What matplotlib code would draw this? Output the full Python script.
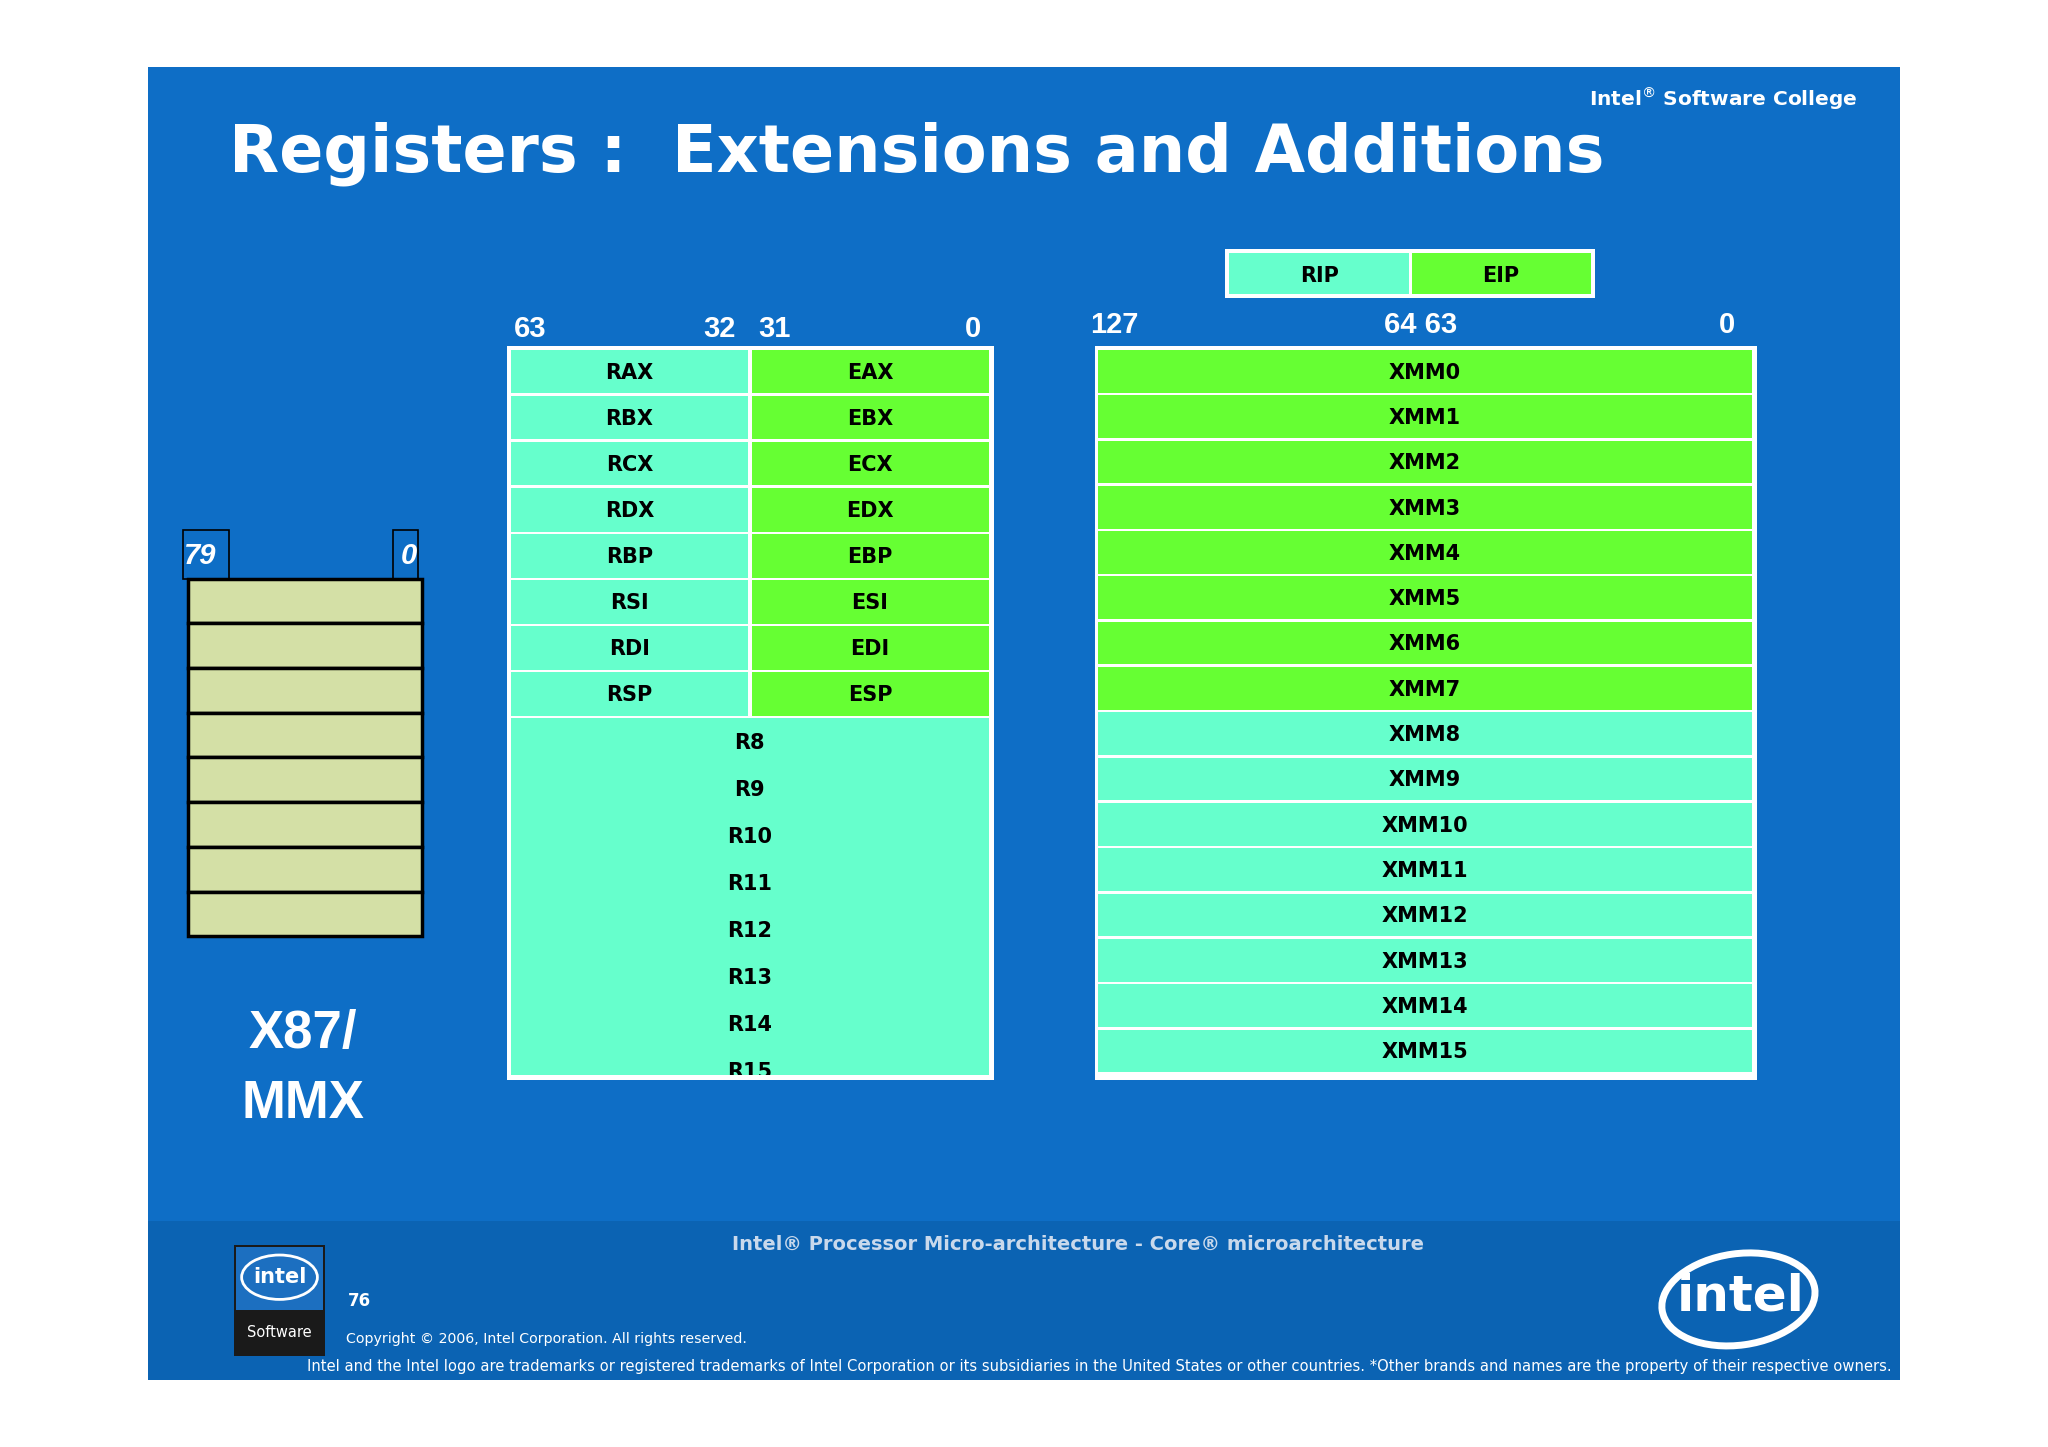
import matplotlib.pyplot as plt
from matplotlib.patches import Rectangle, Ellipse
from matplotlib.transforms import Bbox, TransformedBbox

TITLE = "Registers :  Extensions and Additions"
GPR_LEFT = ["RAX", "RBX", "RCX", "RDX", "RBP", "RSI", "RDI", "RSP"]
GPR_RIGHT = ["EAX", "EBX", "ECX", "EDX", "EBP", "ESI", "EDI", "ESP"]
GPR_EXT = ["R8", "R9", "R10", "R11", "R12", "R13", "R14", "R15"]
XMM = ["XMM%d" % i for i in range(16)]
GPR_BITS = [("63", 406), ("32", 551), ("31", 593), ("0", 745)]
XMM_BITS = [("127", 853), ("64 63", 1088), ("0", 1322)]
X87_ROWS = 8

BLUE = "#0E6EC6"
FOOT = "#0B63B3"
CYAN = "#66FFCC"
GREEN = "#66FF33"
X87C = "#D4E0A6"

fig = plt.figure(figsize=(20.48, 14.47), dpi=100)
ax = fig.add_axes([0, 0, 1, 1])
ax.set_xlim(0, 1568)
ax.set_ylim(1108, 0)
ax.axis("off")
fig.patch.set_facecolor("white")

def rect(x0, y0, x1, y1, fc, ec="none", lw=0, z=1):
    ax.add_patch(Rectangle((x0, y0), x1 - x0, y1 - y0, fc=fc, ec=ec, lw=lw, zorder=z))

def txt(x, y, s, size, color="black", ha="center", **kw):
    return ax.text(x, y, s, fontsize=size, color=color, ha=ha, va="center", zorder=5, **kw)

rect(113, 51, 1455, 1057, BLUE)
rect(113, 935, 1455, 1057, FOOT)

txt(175, 118, TITLE, 47, "white", ha="left", fontweight="bold")
txt(1422, 76, "Intel$^{®}$ Software College", 14.5, "white", ha="right", fontweight="bold")

# RIP / EIP
rect(938, 191, 1221, 228, "white")
rect(941, 194, 1079, 225, CYAN, z=2)
rect(1081, 194, 1218, 225, GREEN, z=2)
txt(1010, 211, "RIP", 15, fontweight="bold")
txt(1149, 211, "EIP", 15, fontweight="bold")

for s, x in GPR_BITS:
    txt(x, 252, s, 21, "white", family="Liberation Sans", fontweight="bold")
for s, x in XMM_BITS:
    txt(x, 249, s, 21, "white", family="Liberation Sans", fontweight="bold")

# GPR table
rect(388, 265, 761, 827, "white")
top, h = 268, (550 - 268) / 8
for i, (l, r) in enumerate(zip(GPR_LEFT, GPR_RIGHT)):
    y0 = top + i * h
    rect(391, y0, 573, y0 + h - 2, CYAN, z=2)
    rect(576, y0, 757, y0 + h - 2, GREEN, z=2)
    txt(482, y0 + h / 2, l, 15, fontweight="bold")
    txt(666, y0 + h / 2, r, 15, fontweight="bold")
rect(391, 550, 757, 823, CYAN, z=2)
clip = TransformedBbox(Bbox([[391, 550], [757, 823]]), ax.transData)
for i, s in enumerate(GPR_EXT):
    t = txt(574, 569 + i * 36, s, 15, fontweight="bold")
    t.set_clip_on(True)
    t.set_clip_box(clip)

# XMM table
rect(838, 265, 1345, 827, "white")
h = (823 - 268) / 16
for i, s in enumerate(XMM):
    y0 = 268 + i * h
    rect(841, y0, 1341, y0 + h - 2, GREEN if i < 8 else CYAN, z=2)
    txt(1091, y0 + h / 2, s, 15, fontweight="bold")

# x87 stack
for x0, x1, s, ha, xt in [(140, 175, "79", "left", 141), (301, 320, "0", "right", 319)]:
    rect(x0, 406, x1, 443, BLUE, ec="black", lw=1.2, z=2)
    txt(xt, 426, s, 21, "white", ha=ha, fontweight="bold", style="italic",
        family="Liberation Sans")
h = (717 - 443) / X87_ROWS
for i in range(X87_ROWS):
    rect(144, 443 + i * h, 323, 443 + (i + 1) * h, X87C, ec="black", lw=2.5, z=2)
txt(232, 792, "X87/", 38, "white", fontweight="bold", family="Liberation Sans")
txt(232, 845, "MMX", 38, "white", fontweight="bold", family="Liberation Sans")

# footer
txt(825, 953, "Intel® Processor Micro-architecture - Core® microarchitecture", 14,
    "#C9D9EC", fontweight="bold")
txt(266, 996, "76", 12, "white", ha="left", fontweight="bold")
txt(265, 1025, "Copyright © 2006, Intel Corporation. All rights reserved.", 10.2,
    "white", ha="left")
txt(1448, 1046, "Intel and the Intel logo are trademarks or registered trademarks of Intel "
    "Corporation or its subsidiaries in the United States or other countries. *Other brands "
    "and names are the property of their respective owners.", 10.6, "white", ha="right")

# small logo
rect(179, 953, 249, 1038, "#1A1A1A", z=2)
rect(181, 955, 247, 1003, "#1C6FC0", z=3)
ax.add_patch(Ellipse((214, 978), 58, 34, fc="none", ec="white", lw=2, zorder=4))
txt(214, 978, "intel", 15, "white", fontweight="bold")
txt(214, 1020, "Software", 10.5, "white")

# big logo
ax.add_patch(Ellipse((1331, 995), 118, 70, angle=-8, fc="none", ec="white", lw=5, zorder=4))
txt(1333, 993, "intel", 36, "white", fontweight="bold")

fig.savefig("out.png", dpi=100, facecolor="white")
